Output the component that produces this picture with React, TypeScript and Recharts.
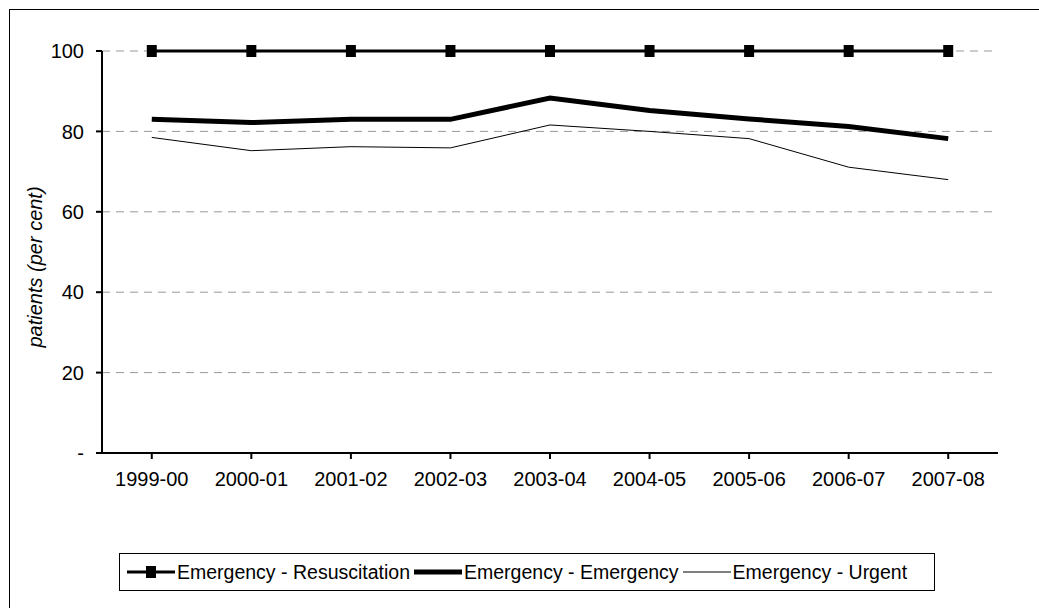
import React from 'react';
import { LineChart, Line, XAxis, YAxis, CartesianGrid } from 'recharts';

const years = ['1999-00','2000-01','2001-02','2002-03','2003-04','2004-05','2005-06','2006-07','2007-08'];
const resuscitation = [100,100,100,100,100,100,100,100,100];
const emergency = [83,82.2,83,83,88.3,85.2,83.1,81.2,78.2];
const urgent = [78.5,75.2,76.2,75.9,81.6,80,78.2,71.1,68];
const yTicks = [0,20,40,60,80,100];

const data = years.map((y, i) => ({ year: y, res: resuscitation[i], em: emergency[i], ur: urgent[i] }));
const font = '"Liberation Sans", Arial, sans-serif';

const Sq = (p: any) => <rect x={p.cx - 5} y={p.cy - 6} width={10} height={12} fill="#000" />;

export default function App() {
  return (
    <div style={{ position: 'absolute', left: 0, top: 0, width: 1039, height: 608, fontFamily: font, overflow: 'hidden' }}>
      <div style={{ position: 'absolute', left: 9, top: 9, width: 1100, height: 700, border: '1px solid #000' }} />
      <LineChart width={1039} height={608} data={data} margin={{ top: 51, right: 41, left: 42, bottom: 125 }}>
        <CartesianGrid horizontal vertical={false} stroke="#999" strokeDasharray="8 6" />
        <XAxis dataKey="year" stroke="#000" strokeWidth={2} tickSize={6} interval={0}
          tick={{ fill: '#000', fontSize: 20, fontFamily: font, dy: 11 }} scale="band" />
        <YAxis domain={[0, 100]} ticks={yTicks} stroke="#000" strokeWidth={2} width={60} tickSize={6}
          tickFormatter={(v: number) => (v === 0 ? '-' : String(v))}
          tick={{ fill: '#000', fontSize: 20, fontFamily: font, dx: -10 }} />
        <Line dataKey="ur" stroke="#000" strokeWidth={1} dot={false} isAnimationActive={false} />
        <Line dataKey="em" stroke="#000" strokeWidth={5} dot={false} isAnimationActive={false} />
        <Line dataKey="res" stroke="#000" strokeWidth={3} dot={<Sq />} isAnimationActive={false} />
      </LineChart>
      <div style={{ position: 'absolute', left: 35, top: 267, transform: 'translate(-50%,-50%) rotate(-90deg)', fontStyle: 'italic', fontSize: 20, whiteSpace: 'nowrap' }}>patients (per cent)</div>
      <div style={{ position: 'absolute', left: 119, top: 553, width: 816, height: 38, border: '1px solid #000', display: 'flex', alignItems: 'center', fontSize: 19.5, boxSizing: 'border-box', whiteSpace: 'nowrap' }}>
        <svg width={48} height={14} style={{ marginLeft: 7 }}><line x1={0} y1={7} x2={48} y2={7} stroke="#000" strokeWidth={3} /><rect x={19} y={1} width={10} height={12} fill="#000" /></svg>
        <span style={{ marginLeft: 2 }}>Emergency - Resuscitation</span>
        <svg width={48} height={14} style={{ marginLeft: 4 }}><line x1={0} y1={7} x2={48} y2={7} stroke="#000" strokeWidth={5} /></svg>
        <span style={{ marginLeft: 2 }}>Emergency - Emergency</span>
        <svg width={48} height={14} style={{ marginLeft: 4 }}><line x1={0} y1={7} x2={48} y2={7} stroke="#000" strokeWidth={1} /></svg>
        <span style={{ marginLeft: 2 }}>Emergency - Urgent</span>
      </div>
    </div>
  );
}
